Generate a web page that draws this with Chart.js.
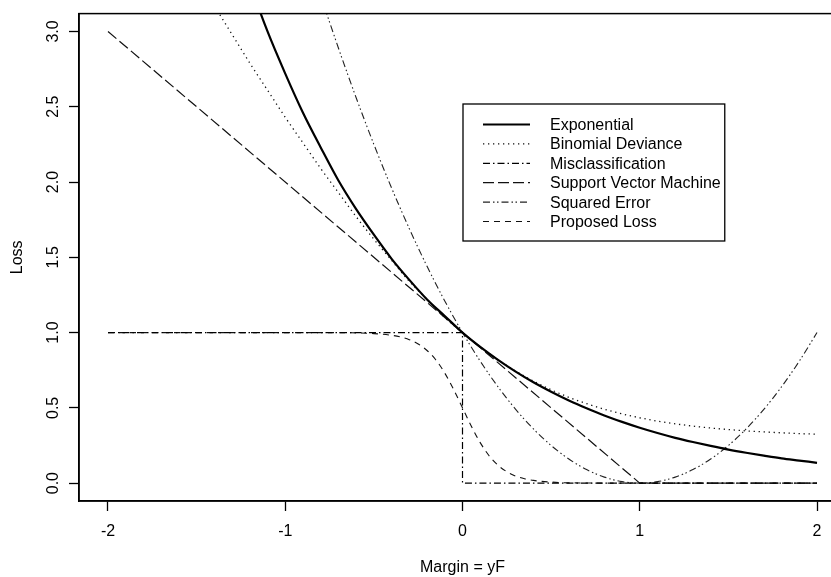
<!DOCTYPE html>
<html><head><meta charset="utf-8">
<script src="https://cdn.jsdelivr.net/npm/chart.js@4.4.1/dist/chart.umd.min.js"></script>
<style>
html,body{margin:0;padding:0;background:#fff;overflow:hidden;width:831px;height:577px}
#wrap{position:absolute;left:0;top:0;width:880px;height:577px}
</style>
</head><body>
<div id="wrap"><canvas id="c" width="880" height="577"></canvas></div>
<script>
// ---- data ----
const xGrid = [-2.0,-1.9,-1.8,-1.7,-1.6,-1.5,-1.4,-1.3,-1.2,-1.1,-1.0,-0.9,-0.8,-0.7,-0.6,-0.5,-0.4,-0.3,-0.2,-0.1,0.0,
               0.1,0.2,0.3,0.4,0.5,0.6,0.7,0.8,0.9,1.0,1.1,1.2,1.3,1.4,1.5,1.6,1.7,1.8,1.9,2.0];
const expLoss = [7.39,6.69,6.05,5.47,4.95,4.48,4.06,3.67,3.32,3.00,2.72,2.46,2.23,2.01,1.82,1.65,1.49,1.35,1.22,1.11,1.00,
                 0.905,0.819,0.741,0.670,0.607,0.549,0.497,0.449,0.407,0.368,0.333,0.301,0.273,0.247,0.223,0.202,0.183,0.165,0.150,0.135];
const binLoss = [4.33,4.13,3.93,3.74,3.55,3.36,3.17,2.98,2.79,2.61,2.43,2.26,2.09,1.93,1.77,1.62,1.48,1.34,1.22,1.10,1.00,
                 0.905,0.820,0.744,0.678,0.620,0.570,0.528,0.491,0.460,0.434,0.412,0.394,0.379,0.366,0.356,0.347,0.340,0.334,0.329,0.325];
const sqLoss  = [9.00,8.41,7.84,7.29,6.76,6.25,5.76,5.29,4.84,4.41,4.00,3.61,3.24,2.89,2.56,2.25,1.96,1.69,1.44,1.21,1.00,
                 0.81,0.64,0.49,0.36,0.25,0.16,0.09,0.04,0.01,0.00,0.01,0.04,0.09,0.16,0.25,0.36,0.49,0.64,0.81,1.00];
const misX    = [-2, 0, 0, 2];
const misLoss = [1, 1, 0, 0];
const svmX    = [-2, 1, 2];
const svmLoss = [3, 0, 0];
const propX    = [-2,-1,-0.6,-0.5,-0.4,-0.35,-0.3,-0.25,-0.2,-0.15,-0.1,-0.05,0,0.05,0.1,0.15,0.2,0.25,0.3,0.35,0.4,0.5,0.6,1,2];
const propLoss = [1,1,0.998,0.993,0.982,0.971,0.953,0.924,0.881,0.818,0.731,0.622,0.5,0.378,0.269,0.182,0.119,0.076,0.047,0.029,0.018,0.007,0.002,0,0];
const seriesNames = ["Exponential","Binomial Deviance","Misclassification","Support Vector Machine","Squared Error","Proposed Loss"];
const xTicks = [-2,-1,0,1,2];
const yTicks = [0,0.5,1,1.5,2,2.5,3];
const xTitle = "Margin = yF";
const yTitle = "Loss";

const pts = (xs, ys) => xs.map((x,i)=>({x:x, y:ys[i]}));
const FONT = "'Liberation Sans', Arial, Helvetica, sans-serif";

const styles = [
  {w:2.2, dash:[], curve:true, color:'#000'},
  {w:1.3, dash:[1.3,3.7], curve:true, color:'#111'},
  {w:1.2, dash:[7,3,1.5,3], curve:false, color:'#000'},
  {w:1.2, dash:[11,4], curve:false, color:'#111'},
  {w:1.1, dash:[7,3,1.5,2.5,1.5,3], curve:true, color:'#222'},
  {w:1.1, dash:[6,5], curve:true, color:'#111'}
];
const dataSets = [pts(xGrid,expLoss), pts(xGrid,binLoss), pts(misX,misLoss), pts(svmX,svmLoss), pts(xGrid,sqLoss), pts(propX,propLoss)];

const datasets = dataSets.map((d,i)=>({
  label: seriesNames[i],
  data: d,
  borderColor: styles[i].color,
  borderWidth: styles[i].w,
  borderDash: styles[i].dash,
  pointRadius: 0,
  fill: false,
  cubicInterpolationMode: styles[i].curve ? 'monotone' : 'default',
  tension: 0
}));

const boxAndLegend = {
  id: 'boxAndLegend',
  afterDatasetsDraw(chart) {
    const {ctx, chartArea: a} = chart;
    ctx.save();
    ctx.strokeStyle = '#000';
    ctx.lineWidth = 1.5;
    ctx.setLineDash([]);
    ctx.strokeRect(a.left, a.top, a.right - a.left, a.bottom - a.top);
    // legend
    ctx.font = "16px " + FONT;
    const lx = 463, ly = 104, rowH = 19.4, row0 = 124.5;
    let maxW = 0;
    seriesNames.forEach(n => { maxW = Math.max(maxW, ctx.measureText(n).width); });
    const lw = (550 - lx) + maxW + 4;
    const lh = 137;
    ctx.fillStyle = '#fff';
    ctx.fillRect(lx, ly, lw, lh);
    ctx.lineWidth = 1.3;
    ctx.strokeRect(lx, ly, lw, lh);
    ctx.textAlign = 'left';
    ctx.textBaseline = 'middle';
    seriesNames.forEach((n,i) => {
      const y = row0 + i*rowH;
      ctx.beginPath();
      ctx.setLineDash(styles[i].dash);
      ctx.lineWidth = styles[i].w;
      ctx.strokeStyle = styles[i].color;
      ctx.moveTo(483, y); ctx.lineTo(530, y);
      ctx.stroke();
      ctx.setLineDash([]);
      ctx.fillStyle = '#000';
      ctx.fillText(n, 550, y + 1);
    });
    ctx.restore();
  }
};

new Chart(document.getElementById('c'), {
  type: 'line',
  data: { datasets },
  plugins: [boxAndLegend],
  options: {
    responsive: false,
    animation: false,
    events: [],
    layout: { padding: { left: 0, right: 34, top: 10, bottom: 0 } },
    plugins: { legend: { display: false }, tooltip: { enabled: false }, title: { display: false } },
    scales: {
      x: {
        type: 'linear',
        min: -2.1636, max: 2.1636,
        afterBuildTicks: s => { s.ticks = xTicks.map(v => ({value: v})); },
        afterFit: s => { s.height = 76; },
        grid: { drawOnChartArea: false, drawTicks: true, tickLength: 10, tickColor: '#000', tickWidth: 1.3, color: '#000' },
        border: { display: true, color: '#000', width: 1.5 },
        ticks: { color: '#000', padding: 11, font: { family: FONT, size: 16 }, maxRotation: 0, minRotation: 0,
                 callback: v => String(v) },
        title: { display: true, text: xTitle, color: '#000', font: { family: FONT, size: 16, lineHeight: 1.2 }, padding: { top: 0, bottom: 0 } }
      },
      y: {
        type: 'linear',
        min: -0.1187, max: 3.1187,
        afterBuildTicks: s => { s.ticks = yTicks.map(v => ({value: v})); },
        afterFit: s => { s.width = 79; },
        grid: { drawOnChartArea: false, drawTicks: true, tickLength: 10, tickColor: '#000', tickWidth: 1.3, color: '#000' },
        border: { display: true, color: '#000', width: 1.5 },
        ticks: { color: '#000', padding: 4, font: { family: FONT, size: 16 }, minRotation: 90, maxRotation: 90,
                 crossAlign: 'center', callback: v => Number(v).toFixed(1) },
        title: { display: true, text: yTitle, color: '#000', font: { family: FONT, size: 16, lineHeight: 1.2 }, padding: { top: 8, bottom: 0 } }
      }
    }
  }
});
</script>
</body></html>
